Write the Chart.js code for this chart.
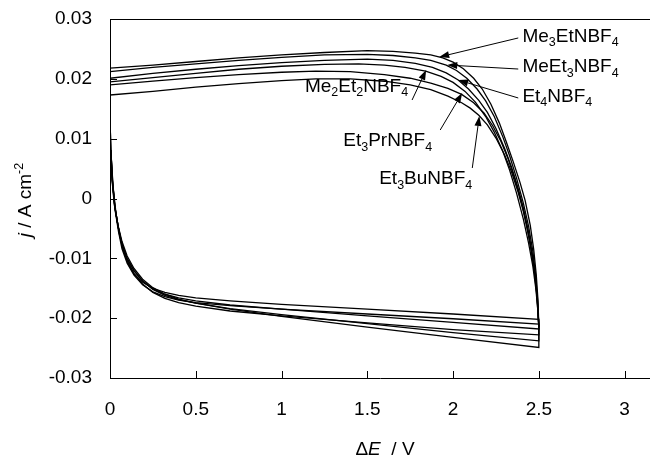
<!DOCTYPE html>
<html><head><meta charset="utf-8">
<script src="https://cdn.jsdelivr.net/npm/chart.js@4.4.1/dist/chart.umd.min.js"></script>
<style>html,body{margin:0;padding:0;background:#fff;overflow:hidden}canvas{display:block}</style>
</head><body>
<canvas id="c" width="650" height="457"></canvas>
<script>
// ---------- data (ΔE / V , j / A cm^-2) ----------
const seriesNames = ['Me_3EtNBF_4', 'MeEt_3NBF_4', 'Et_4NBF_4', 'Me_2Et_2NBF_4', 'Et_3PrNBF_4', 'Et_3BuNBF_4'];
const xTicks = [0, 0.5, 1, 1.5, 2, 2.5, 3];
const yTicks = [-0.03, -0.02, -0.01, 0, 0.01, 0.02, 0.03];

const me3Et = [[0,0.0218],[0.25,0.0223],[0.5,0.0229],[0.75,0.0235],[1.0,0.0240],[1.25,0.0244],[1.5,0.0247],[1.65,0.0246],[1.78,0.0243],[1.87,0.0240],[1.94,0.0235],[2.0,0.0228],[2.06,0.0217],[2.12,0.0201],[2.17,0.0183],[2.22,0.0158],[2.27,0.0126],[2.31,0.0095],[2.35,0.0062],[2.39,0.0027],[2.42,-0.0003],[2.45,-0.0045],[2.47,-0.0085],[2.485,-0.0128],[2.495,-0.017],[2.5,-0.0215],
  [2.5,-0.0249],[2.0,-0.0232],[1.5,-0.0215],[1.0,-0.0197],[0.7,-0.0185],[0.5,-0.0175],[0.4,-0.0168],[0.32,-0.0160],[0.25,-0.0149],[0.19,-0.0135],[0.14,-0.0117],[0.1,-0.0096],[0.07,-0.0072],[0.045,-0.0043],[0.025,-0.001],[0.012,0.003],[0.004,0.008],[0,0.013],[0,0.0218]];
const meEt3 = [[0,0.0212],[0.25,0.0219],[0.5,0.0225],[0.75,0.0231],[1.0,0.0236],[1.25,0.0240],[1.5,0.0241],[1.65,0.0239],[1.78,0.0235],[1.87,0.0231],[1.96,0.0223],[2.02,0.0214],[2.08,0.0201],[2.14,0.0183],[2.19,0.0163],[2.24,0.0137],[2.29,0.0103],[2.33,0.0071],[2.37,0.0034],[2.41,-0.0008],[2.44,-0.0046],[2.465,-0.0088],[2.48,-0.0125],[2.493,-0.017],[2.5,-0.0215],
  [2.5,-0.0238],[2.0,-0.0224],[1.5,-0.0209],[1.0,-0.0194],[0.7,-0.0184],[0.5,-0.0175],[0.4,-0.0169],[0.32,-0.0162],[0.25,-0.0152],[0.19,-0.0138],[0.14,-0.0120],[0.1,-0.0100],[0.07,-0.0076],[0.047,-0.0046],[0.027,-0.0012],[0.013,0.003],[0.004,0.008],[0,0.013],[0,0.0212]];
const et4 = [[0,0.0201],[0.25,0.0209],[0.5,0.0216],[0.75,0.0222],[1.0,0.0227],[1.25,0.0231],[1.5,0.0233],[1.65,0.0231],[1.78,0.0226],[1.88,0.0219],[1.96,0.0210],[2.03,0.0198],[2.09,0.0183],[2.15,0.0164],[2.2,0.0144],[2.25,0.0117],[2.3,0.0084],[2.34,0.0053],[2.38,0.0016],[2.41,-0.0016],[2.44,-0.0056],[2.46,-0.009],[2.48,-0.0132],[2.492,-0.0172],[2.5,-0.0215],
  [2.5,-0.0228],[2.0,-0.0219],[1.5,-0.0208],[1.0,-0.0196],[0.7,-0.0188],[0.5,-0.0180],[0.4,-0.0174],[0.32,-0.0167],[0.25,-0.0157],[0.19,-0.0143],[0.14,-0.0125],[0.1,-0.0104],[0.07,-0.0079],[0.048,-0.0048],[0.028,-0.0013],[0.014,0.003],[0.005,0.008],[0,0.013],[0,0.0201]];
const me2Et2 = [[0,0.0195],[0.25,0.0202],[0.5,0.0209],[0.75,0.0216],[1.0,0.0221],[1.25,0.0224],[1.45,0.0225],[1.6,0.0223],[1.72,0.0219],[1.84,0.0213],[1.93,0.0204],[2.0,0.0194],[2.07,0.0179],[2.13,0.0161],[2.19,0.0137],[2.24,0.0111],[2.29,0.0079],[2.33,0.0047],[2.37,0.0009],[2.41,-0.0035],[2.44,-0.0074],[2.465,-0.0113],[2.483,-0.0152],[2.495,-0.019],[2.5,-0.0215],
  [2.5,-0.0218],[2.0,-0.0207],[1.5,-0.0196],[1.0,-0.0185],[0.7,-0.0178],[0.5,-0.0171],[0.4,-0.0166],[0.32,-0.0160],[0.25,-0.0151],[0.19,-0.0138],[0.14,-0.0121],[0.1,-0.0101],[0.07,-0.0077],[0.048,-0.0048],[0.028,-0.0013],[0.014,0.003],[0.005,0.008],[0,0.013],[0,0.0195]];
const et3Pr = [[0,0.0190],[0.25,0.0196],[0.5,0.0202],[0.75,0.0207],[1.0,0.0211],[1.2,0.0213],[1.4,0.0212],[1.6,0.0207],[1.75,0.0201],[1.87,0.0193],[1.97,0.0184],[2.05,0.0174],[2.12,0.0160],[2.18,0.0143],[2.23,0.0122],[2.28,0.0095],[2.32,0.0067],[2.36,0.0033],[2.4,-0.0008],[2.43,-0.0045],[2.455,-0.0085],[2.475,-0.0125],[2.49,-0.0168],[2.5,-0.0215],
  [2.5,-0.0210],[2.0,-0.0201],[1.5,-0.0193],[1.0,-0.0185],[0.7,-0.0179],[0.5,-0.0174],[0.4,-0.0170],[0.32,-0.0164],[0.25,-0.0156],[0.19,-0.0144],[0.14,-0.0128],[0.1,-0.0108],[0.07,-0.0084],[0.05,-0.0056],[0.03,-0.002],[0.016,0.0025],[0.006,0.0075],[0,0.013],[0,0.0190]];
const et3Bu = [[0,0.0173],[0.25,0.0179],[0.5,0.0186],[0.75,0.0192],[1.0,0.0197],[1.2,0.0200],[1.4,0.0200],[1.6,0.0196],[1.75,0.0190],[1.87,0.0182],[1.97,0.0171],[2.05,0.0160],[2.1,0.0151],[2.15,0.0139],[2.2,0.0123],[2.25,0.0101],[2.3,0.0073],[2.34,0.0045],[2.38,0.001],[2.41,-0.0022],[2.44,-0.0062],[2.465,-0.0102],[2.483,-0.0142],[2.495,-0.0185],[2.5,-0.0215],
  [2.5,-0.0202],[2.0,-0.0193],[1.5,-0.0185],[1.0,-0.0177],[0.7,-0.0171],[0.5,-0.0166],[0.4,-0.0162],[0.32,-0.0157],[0.25,-0.0150],[0.19,-0.0140],[0.14,-0.0126],[0.11,-0.0111],[0.08,-0.0089],[0.055,-0.006],[0.035,-0.0025],[0.018,0.002],[0.007,0.007],[0,0.013],[0,0.0173]];

const seriesList = [me3Et, meEt3, et4, me2Et2, et3Pr, et3Bu];

// ---------- annotation layout (data coordinates) ----------
const annotations = [
  {i:0, text:{x:2.404, y:0.02616, align:'left'},  tail:{x:2.380, y:0.02683}, tip:{x:1.919, y:0.02365}},
  {i:1, text:{x:2.404, y:0.02114, align:'left'},  tail:{x:2.380, y:0.02164}, tip:{x:1.966, y:0.02231}},
  {i:2, text:{x:2.404, y:0.01613, align:'left'},  tail:{x:2.380, y:0.0168},  tip:{x:2.030, y:0.0198}},
  {i:3, text:{x:1.738, y:0.0178,  align:'right'}, tail:{x:1.761, y:0.01646}, tip:{x:1.843, y:0.02148}},
  {i:4, text:{x:1.878, y:0.00877, align:'right'}, tail:{x:1.925, y:0.01145}, tip:{x:2.053, y:0.01763}},
  {i:5, text:{x:2.112, y:0.00242, align:'right'}, tail:{x:2.112, y:0.0051},  tip:{x:2.153, y:0.01379}}
];

const FONT = '"Liberation Sans", Arial, Helvetica, sans-serif';
const FS = 19, SUB = 12.5;

function parseRich(s){ // '_d' => subscript char
  const parts=[]; let buf='';
  for(let k=0;k<s.length;k++){
    if(s[k]==='_'){ if(buf){parts.push([buf,'n']);buf='';} parts.push([s[k+1],'sub']); k++; }
    else buf+=s[k];
  }
  if(buf) parts.push([buf,'n']);
  return parts;
}
function fontFor(st){
  if(st==='i') return 'italic '+FS+'px '+FONT;
  if(st==='sub'||st==='sup') return SUB+'px '+FONT;
  return FS+'px '+FONT;
}
function drawRich(ctx, parts, x, y, align){
  let w=0; const ws=[];
  parts.forEach(p=>{ctx.font=fontFor(p[1]); const m=ctx.measureText(p[0]).width; ws.push(m); w+=m;});
  let cx = align==='right'? x-w : align==='center'? x-w/2 : x;
  ctx.textAlign='left'; ctx.textBaseline='alphabetic'; ctx.fillStyle='#000';
  parts.forEach((p,k)=>{
    ctx.font=fontFor(p[1]);
    const dy = p[1]==='sub'? 4.5 : p[1]==='sup'? -8 : 0;
    ctx.fillText(p[0], cx, y+dy); cx+=ws[k];
  });
}

const framePlugin = {
  id:'frame',
  afterDraw(chart){
    const ctx=chart.ctx, a=chart.chartArea, xs=chart.scales.x, ys=chart.scales.y;
    ctx.save();
    ctx.strokeStyle='#000'; ctx.lineWidth=1;
    // top frame line
    ctx.beginPath(); ctx.moveTo(a.left, Math.round(a.top)+0.5); ctx.lineTo(a.right, Math.round(a.top)+0.5); ctx.stroke();
    // inward tick marks
    ctx.beginPath();
    xTicks.forEach(v=>{ if(v===0) return; const px=Math.round(xs.getPixelForValue(v))+0.5; ctx.moveTo(px,a.bottom); ctx.lineTo(px,a.bottom-7); });
    yTicks.forEach(v=>{ const py=Math.round(ys.getPixelForValue(v))+0.5; ctx.moveTo(a.left,py); ctx.lineTo(a.left+7,py); });
    ctx.stroke();
    // axis titles
    drawRich(ctx, [['\u0394','n'],['E','i'],['  / V','n']], (a.left+a.right)/2+5, 455, 'center');
    ctx.save(); ctx.translate(31, 200); ctx.rotate(-Math.PI/2);
    drawRich(ctx, [['j','i'],[' / A cm','n'],['-2','sup']], 0, 0, 'center');
    ctx.restore();
    // annotations
    annotations.forEach(an=>{
      const tx=xs.getPixelForValue(an.tail.x), ty=ys.getPixelForValue(an.tail.y);
      const px=xs.getPixelForValue(an.tip.x), py=ys.getPixelForValue(an.tip.y);
      const ang=Math.atan2(py-ty, px-tx), L=10, W=3.5;
      const bx=px-L*Math.cos(ang), by=py-L*Math.sin(ang);
      ctx.beginPath(); ctx.moveTo(tx,ty); ctx.lineTo(bx,by); ctx.stroke();
      ctx.beginPath(); ctx.moveTo(px,py);
      ctx.lineTo(bx+W*Math.sin(ang), by-W*Math.cos(ang));
      ctx.lineTo(bx-W*Math.sin(ang), by+W*Math.cos(ang));
      ctx.closePath(); ctx.fillStyle='#000'; ctx.fill();
      drawRich(ctx, parseRich(seriesNames[an.i]), xs.getPixelForValue(an.text.x), ys.getPixelForValue(an.text.y), an.text.align);
    });
    ctx.restore();
  }
};

const tickFont = {family:FONT, size:FS};
new Chart(document.getElementById('c').getContext('2d'), {
  type:'scatter',
  data:{ datasets: seriesList.map((pts,i)=>({
    label: seriesNames[i].replace(/_/g,''),
    data: pts.map(p=>({x:p[0], y:p[1]})),
    showLine:true, borderColor:'#000', backgroundColor:'#000', borderWidth:1.3,
    pointRadius:0, pointHoverRadius:0, tension:0, fill:false
  }))},
  options:{
    responsive:false, animation:false, devicePixelRatio:1,
    layout:{padding:{top:19,right:0,bottom:0,left:0}},
    plugins:{legend:{display:false}, tooltip:{enabled:false}},
    scales:{
      x:{type:'linear', min:0, max:3.148,
        afterBuildTicks(s){ s.ticks = xTicks.map(v=>({value:v})); },
        afterFit(s){ s.height=79; s.paddingLeft=0; s.paddingRight=0; },
        grid:{display:false, drawTicks:false},
        border:{display:true, color:'#000', width:1},
        ticks:{padding:20, color:'#000', font:tickFont, autoSkip:false, maxRotation:0, callback:v=>String(v)}
      },
      y:{type:'linear', min:-0.03, max:0.03,
        afterBuildTicks(s){ s.ticks = yTicks.map(v=>({value:v})); },
        afterFit(s){ s.width=110; s.paddingTop=0; s.paddingBottom=0; },
        grid:{display:false, drawTicks:false},
        border:{display:true, color:'#000', width:1},
        ticks:{padding:18, color:'#000', font:tickFont, autoSkip:false, callback:v=>{const r=Math.round(v*100)/100; return r===0?'0':r.toFixed(2);}}
      }
    }
  },
  plugins:[framePlugin]
});
</script>
</body></html>
